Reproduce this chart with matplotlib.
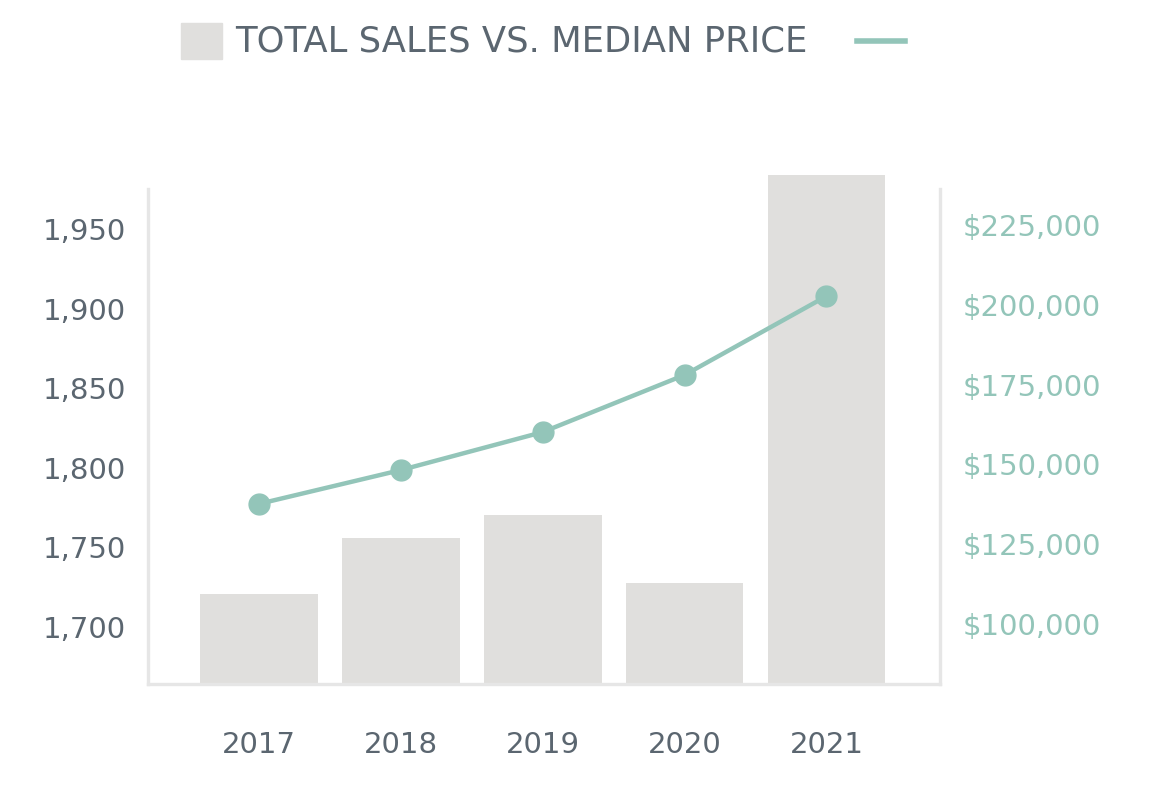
import matplotlib.pyplot as plt
from matplotlib.patches import Rectangle
from matplotlib.lines import Line2D
from matplotlib.ticker import FuncFormatter

plt.rcParams['font.family'] = ['DejaVu Sans']

years = ['2017', '2018', '2019', '2020', '2021']
total_sales = [1720, 1755, 1770, 1727, 1983]
median_price = [137300, 147900, 159800, 177700, 202400]

left_ticks = [1700, 1750, 1800, 1850, 1900, 1950]
right_ticks = [100000, 125000, 150000, 175000, 200000, 225000]

bar_color = '#E0DFDD'
teal = '#93C5B9'
text_gray = '#5B6670'
spine_gray = '#E6E6E6'

fig = plt.figure(figsize=(11.53, 8.03), dpi=100)
ax1 = fig.add_axes([0.1284, 0.147, 0.8153 - 0.1284, 0.7945 - 0.147])
ax2 = ax1.twinx()

xs = list(range(len(years)))
ax1.bar(xs, total_sales, width=0.83, color=bar_color, zorder=1)
ax1.set_ylim(1663.6, 1990.2)
ax1.set_xlim(-0.78, 4.8)

ax2.plot(xs, median_price, color=teal, linewidth=3.2, marker='o',
         markersize=15, zorder=3, clip_on=False)
ax2.set_ylim(80890, 243800)

ax1.set_xticks(xs)
ax1.set_xticklabels(years)
ax1.set_yticks(left_ticks)
ax1.yaxis.set_major_formatter(FuncFormatter(lambda v, p: f'{v:,.0f}'))
ax2.set_yticks(right_ticks)
ax2.yaxis.set_major_formatter(FuncFormatter(lambda v, p: f'${v:,.0f}'))

ax1.tick_params(axis='y', length=0, pad=16, labelsize=21, labelcolor=text_gray)
ax1.tick_params(axis='x', length=0, pad=33, labelsize=21, labelcolor=text_gray)
ax2.tick_params(axis='y', length=0, pad=16, labelsize=21, labelcolor=teal)

for a in (ax1, ax2):
    a.spines['top'].set_visible(False)
    for s in ('left', 'right', 'bottom'):
        a.spines[s].set_color(spine_gray)
        a.spines[s].set_linewidth(2.4)
ax1.spines['right'].set_visible(False)
ax2.spines['left'].set_visible(False)
ax2.spines['bottom'].set_visible(False)
ax1.spines['left'].set_bounds(1663.6, 1974.5)
ax2.spines['right'].set_bounds(80890, 235965)
ax1.set_zorder(ax2.get_zorder() - 1)
ax2.patch.set_visible(False)

# legend-like header
fig.patches.append(Rectangle((181 / 1153, 1 - 60 / 803), 41 / 1153, 36 / 803,
                             transform=fig.transFigure, color=bar_color))
fig.text(235 / 1153, 1 - 42 / 803, 'TOTAL SALES VS. MEDIAN PRICE',
         fontsize=25.5, color=text_gray, va='center', ha='left')
fig.lines.append(Line2D([857 / 1153, 905 / 1153], [1 - 42 / 803, 1 - 42 / 803],
                        transform=fig.transFigure, color=teal, linewidth=4))

fig.savefig('out.png', dpi=100, facecolor='white')
